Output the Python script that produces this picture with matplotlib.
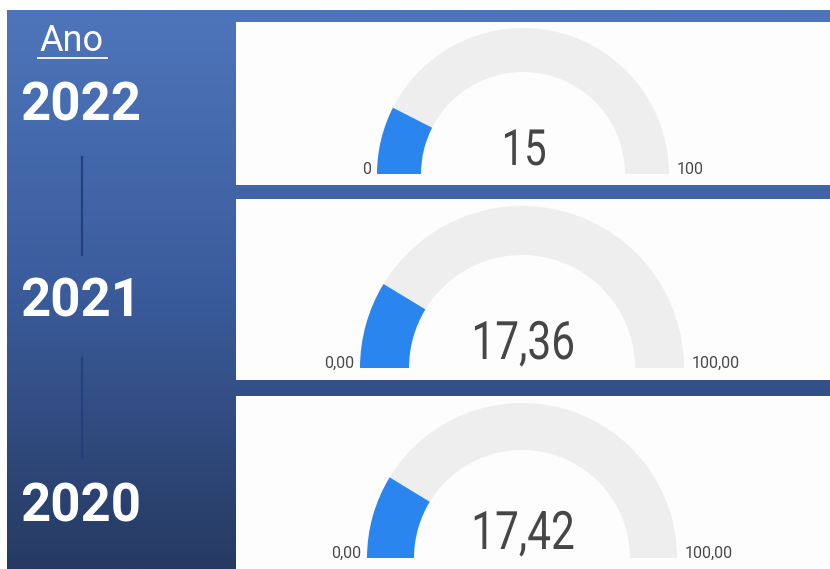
import numpy as np
import matplotlib
matplotlib.use('Agg')
import matplotlib.pyplot as plt
from matplotlib.patches import Wedge, Rectangle, PathPatch
from matplotlib.colors import LinearSegmentedColormap
from matplotlib.textpath import TextPath
from matplotlib.font_manager import FontProperties
from matplotlib.transforms import Affine2D

# data
years = ['2022', '2021', '2020']
values = [15, 17.36, 17.42]
value_labels = ['15', '17,36', '17,42']
min_labels = ['0', '0,00', '0,00']
max_labels = ['100', '100,00', '100,00']
gauge_max = 100

# layout in pixels (figure is 830x569, y goes down)
card_top = [22, 199, 396]
card_bottom = [185, 380, 569]
gauge_cx = [523, 522, 522]
gauge_base = [174, 368, 558]
gauge_r = [146, 162, 155]
gauge_w = [44, 49, 47]
value_px = [50, 53, 53]     # em size of the big number, in pixels
year_base = [120, 316, 522]

BLUE = '#2a86ee'
TRACK = '#eeeeee'
num_prop = FontProperties(family='Roboto')


def narrow_text(x, y, s, size, squeeze=0.80, color='#464646'):
    # condensed look: draw the glyph outline squeezed horizontally
    tp = TextPath((0, 0), s, size=1, prop=num_prop)
    ext = tp.get_extents()
    cx = (ext.x0 + ext.x1) / 2
    tr = (Affine2D().translate(-cx, 0).scale(size * squeeze, -size)
          .translate(x, y))
    ax.add_patch(PathPatch(tr.transform_path(tp), facecolor=color,
                           edgecolor='none', zorder=4))


fig = plt.figure(figsize=(8.3, 5.69), dpi=100, facecolor='white')
ax = fig.add_axes([0, 0, 1, 1])
ax.set_xlim(0, 830)
ax.set_ylim(569, 0)
ax.axis('off')

# blue gradient behind everything (left strip + gaps between cards)
grad = LinearSegmentedColormap.from_list(
    'bg', [(0, '#4e75bb'), (0.5, '#3a5c9c'), (1, '#263a62')])
ax.imshow(np.linspace(0, 1, 256).reshape(-1, 1), cmap=grad, aspect='auto',
          extent=[7, 830, 569, 10], zorder=0)

# left column: header + years + connectors
ax.text(72, 51, 'Ano', color='white', fontsize=26, family='Roboto',
        ha='center', va='baseline', zorder=3)
ax.plot([38, 107], [58, 58], color='white', lw=1.3, zorder=3)
for i, yr in enumerate(years):
    ax.text(81, year_base[i], yr, color='white', fontsize=38, family='Roboto',
            fontweight='bold', ha='center', va='baseline', zorder=3)
ax.plot([82, 82], [157, 255], color='#23417d', lw=1.6, zorder=2)
ax.plot([82, 82], [358, 458], color='#23417d', lw=1.6, zorder=2)

for i in range(len(values)):
    ax.add_patch(Rectangle((236, card_top[i]), 830 - 236,
                           card_bottom[i] - card_top[i],
                           facecolor='#fdfdfd', edgecolor='none', zorder=1))
    cx, cy, r, w = gauge_cx[i], gauge_base[i], gauge_r[i], gauge_w[i]
    # y is inverted, so the upper half runs from 180 to 360 degrees
    split = 180 + 180 * values[i] / gauge_max
    ax.add_patch(Wedge((cx, cy), r, split, 360, width=w,
                       facecolor=TRACK, edgecolor='none', zorder=2))
    ax.add_patch(Wedge((cx, cy), r, 180, split, width=w,
                       facecolor=BLUE, edgecolor='none', zorder=3))
    narrow_text(cx + 2, cy - 9, value_labels[i], value_px[i])
    ax.text(cx - r - 6, cy, min_labels[i], fontsize=11.5, family='Roboto',
            color='#4a4a4a', ha='right', va='baseline', zorder=4)
    ax.text(cx + r + 8, cy, max_labels[i], fontsize=11.5, family='Roboto',
            color='#4a4a4a', ha='left', va='baseline', zorder=4)

plt.savefig('out.png', dpi=100, facecolor='white')
